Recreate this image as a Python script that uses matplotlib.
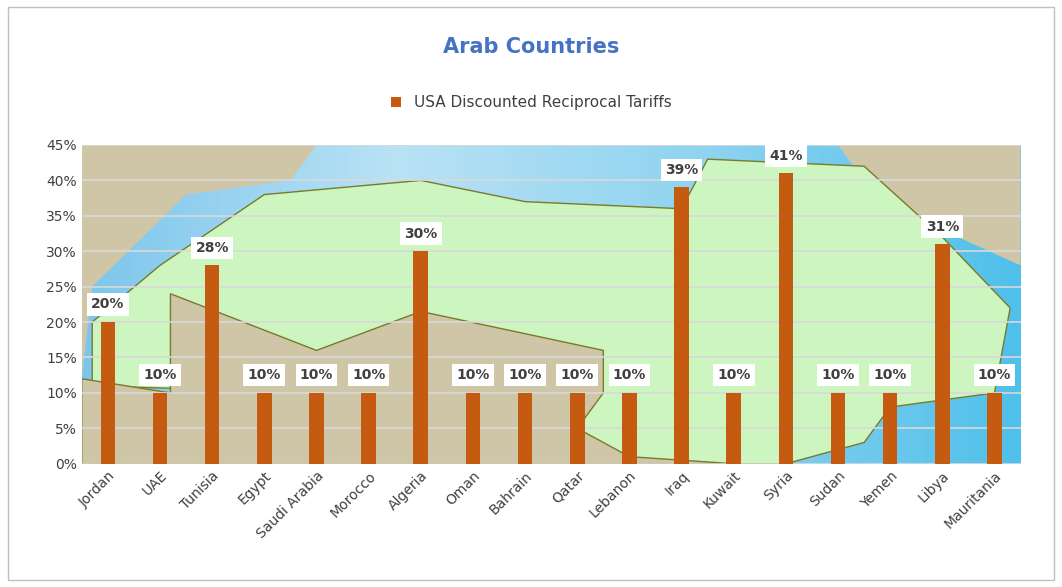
import numpy as np
import matplotlib.pyplot as plt
from matplotlib.patches import Polygon

# data
countries = ["Jordan", "UAE", "Tunisia", "Egypt", "Saudi Arabia", "Morocco", "Algeria",
             "Oman", "Bahrain", "Qatar", "Lebanon", "Iraq", "Kuwait", "Syria",
             "Sudan", "Yemen", "Libya", "Mauritania"]
tariffs = [20, 10, 28, 10, 10, 10, 30, 10, 10, 10, 10, 39, 10, 41, 10, 10, 31, 10]

fig = plt.figure(figsize=(10.62, 5.87), dpi=100)
fig.patches.append(plt.Rectangle((0.008, 0.012), 0.984, 0.976, transform=fig.transFigure,
                                 fill=False, edgecolor="#bfbfbf", linewidth=1))
ax = fig.add_axes([0.077, 0.21, 0.884, 0.543])

x = np.arange(len(countries))
ax.set_xlim(-0.5, len(countries) - 0.5)
ax.set_ylim(0, 45)

# rough map-like background (decorative)
grad = np.linspace(0, 1, 256).reshape(1, -1)
ax.imshow(grad, extent=(-0.5, len(countries) - 0.5, 0, 45), aspect="auto",
          cmap=plt.matplotlib.colors.LinearSegmentedColormap.from_list("sea", ["#7cc6ec", "#b9e2f5", "#8fd3f0", "#4fc0ea"]),
          zorder=0)
land = [(-0.5, 45), (4, 45), (3.5, 40), (1.5, 38), (-0.3, 25), (-0.5, 12)]
ax.add_patch(Polygon(land, closed=True, facecolor="#cfc6a8", edgecolor="none", zorder=0.5))
ax.add_patch(Polygon([(14, 45), (17.5, 45), (17.5, 28), (16, 33), (14.5, 40)], closed=True,
                     facecolor="#cfc6a8", edgecolor="none", zorder=0.5))
green = [(-0.3, 20), (1, 28), (3, 38), (6, 40), (8, 37), (11, 36), (11.5, 43), (14.5, 42),
         (16, 32), (17.3, 22), (17, 10), (15, 8), (14.5, 3), (13, 0), (9, 0), (9, 5), (8, 9),
         (4, 10), (-0.3, 11)]
ax.add_patch(Polygon(green, closed=True, facecolor="#ccf5c0", edgecolor="#7a7a2a", linewidth=1, zorder=0.6))
tan = [(1.2, 10), (1.2, 24), (4, 16), (6, 21.5), (9.5, 16), (9.5, 10), (9, 5), (10, 1), (12, 0), (-0.5, 0), (-0.5, 12)]
ax.add_patch(Polygon(tan, closed=True, facecolor="#cfc6a8", edgecolor="#7a7a2a", linewidth=1, zorder=0.7))

ax.set_yticks(range(0, 46, 5))
ax.set_yticklabels([f"{v}%" for v in range(0, 46, 5)])
ax.grid(axis="y", color="#d9d9d9", linewidth=1.2, zorder=1)
ax.set_axisbelow(False)

bars = ax.bar(x, tariffs, width=0.28, color="#c55a11", zorder=3,
              label="USA Discounted Reciprocal Tariffs")
for xi, v in zip(x, tariffs):
    ax.text(xi, v + 1.5, f"{v}%", ha="center", va="bottom", fontsize=10, fontweight="bold",
            color="#404040", zorder=4,
            bbox=dict(facecolor="white", edgecolor="none", boxstyle="square,pad=0.3"))

ax.set_xticks(x)
ax.set_xticklabels(countries, rotation=45, ha="right", rotation_mode="anchor", fontsize=10, color="#404040")
ax.tick_params(axis="y", labelsize=10, colors="#404040", length=0)
ax.tick_params(axis="x", length=0)
for s in ax.spines.values():
    s.set_visible(False)

fig.text(0.5, 0.91, "Arab Countries", ha="center", fontsize=15, fontweight="bold", color="#4472c4")
fig.legend(handles=[bars], loc="center", bbox_to_anchor=(0.5, 0.825), frameon=False,
           fontsize=11, handlelength=0.7, handleheight=0.7, labelcolor="#404040")

fig.savefig("out.png", dpi=100)
